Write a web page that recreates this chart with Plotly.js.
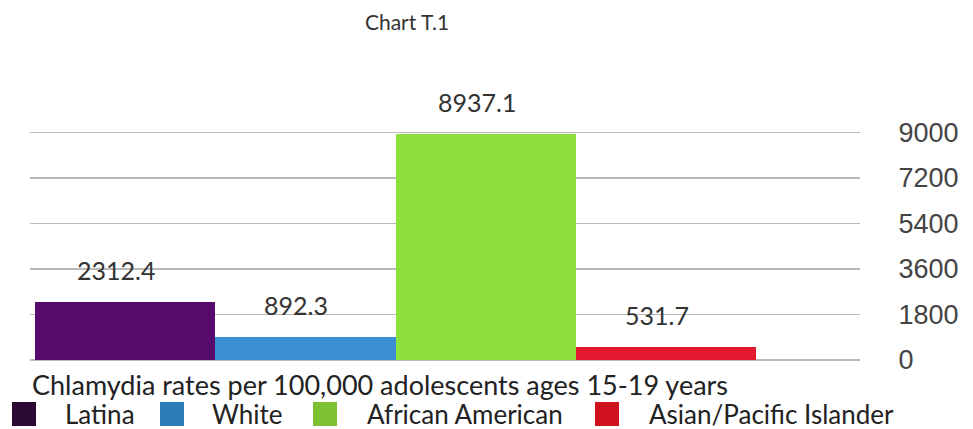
<!DOCTYPE html>
<html>
<head>
<meta charset="utf-8">
<script src="https://cdn.plot.ly/plotly-3.0.1.min.js"></script>
<style>html,body{margin:0;padding:0;background:#fff;}#chart{width:973px;height:429px;}</style>
</head>
<body>
<div id="chart"></div>
<script>
const groups = ["Latina", "White", "African American", "Asian/Pacific Islander"];
const rates = [2312.4, 892.3, 8937.1, 531.7];
const barColors = ["#560b6c", "#3a8fd2", "#8ee03c", "#e2192e"];
const swatchColors = ["#2a0a32", "#2c7cb8", "#7cc234", "#d0121f"];
const yTicks = [0, 1800, 3600, 5400, 7200, 9000];
const chartTitle = "Chart T.1";
const xTitle = "Chlamydia rates per 100,000 adolescents ages 15-19 years";

// layout geometry (pixels)
const W = 973, H = 429;
const M = { l: 30, r: 113, t: 130, b: 69 };
const plotW = W - M.l - M.r, plotH = H - M.t - M.b;
const px = x => (x - M.l) / plotW;
const py = y => (H - M.b - y) / plotH;

// legend placement (pixels)
const legendSwatchX = [12, 160, 313, 595];
const legendTextX = [63, 210, 365, 647];
const legendSwatchSize = 24;
const legendTop = 402;

const font = "Lato, 'Open Sans', sans-serif";

const traces = groups.map((g, i) => ({
  type: "bar",
  name: g,
  x: [i],
  y: [rates[i]],
  width: 1.0,
  marker: { color: barColors[i] },
  showlegend: false,
  hoverinfo: "none"
}));

const annotations = groups.map((g, i) => ({
  x: i - 0.05,
  y: rates[i],
  xref: "x",
  yref: "y",
  text: rates[i].toFixed(1),
  showarrow: false,
  yanchor: "bottom",
  yshift: 15,
  font: { family: font, size: 25, color: "#333" }
}));
annotations.push({
  x: px(380), xref: "paper", xanchor: "center",
  y: py(384), yref: "paper", yanchor: "middle",
  text: xTitle,
  showarrow: false,
  font: { family: font, size: 27, color: "#222" }
});
groups.forEach((g, i) => {
  annotations.push({
    x: px(legendTextX[i]), xref: "paper", xanchor: "left",
    y: py(legendTop + legendSwatchSize / 2), yref: "paper", yanchor: "middle",
    text: g,
    showarrow: false,
    font: { family: font, size: 26, color: "#222" }
  });
});

const shapes = groups.map((g, i) => ({
  type: "rect",
  xref: "paper", yref: "paper",
  x0: px(legendSwatchX[i]), x1: px(legendSwatchX[i] + legendSwatchSize),
  y0: py(legendTop), y1: py(legendTop + legendSwatchSize),
  fillcolor: swatchColors[i],
  line: { width: 0 }
}));

const layout = {
  width: W,
  height: H,
  margin: { l: M.l, r: M.r, t: M.t, b: M.b, autoexpand: false },
  paper_bgcolor: "#fff",
  plot_bgcolor: "#fff",
  barmode: "overlay",
  bargap: 0,
  showlegend: false,
  title: {
    text: chartTitle,
    x: 407 / W, xref: "container", xanchor: "center",
    y: 1 - 23 / H, yref: "container", yanchor: "middle",
    font: { family: font, size: 21, color: "#333" }
  },
  xaxis: {
    range: [-0.527, 4.074],
    showticklabels: false,
    showgrid: false,
    zeroline: false,
    ticks: "",
    fixedrange: true
  },
  yaxis: {
    side: "right",
    range: [0, 9100],
    tickvals: yTicks,
    ticktext: yTicks.map(String),
    showgrid: true,
    gridcolor: "#b8b8b8",
    gridwidth: 1.5,
    zeroline: true,
    zerolinecolor: "#b8b8b8",
    zerolinewidth: 1.5,
    ticks: "outside",
    ticklen: 32,
    tickcolor: "rgba(0,0,0,0)",
    tickfont: { family: "'Liberation Sans', Arial, sans-serif", size: 27, color: "#444" },
    fixedrange: true
  },
  annotations: annotations,
  shapes: shapes
};

Plotly.newPlot("chart", traces, layout, { displayModeBar: false, staticPlot: true });
</script>
</body>
</html>
